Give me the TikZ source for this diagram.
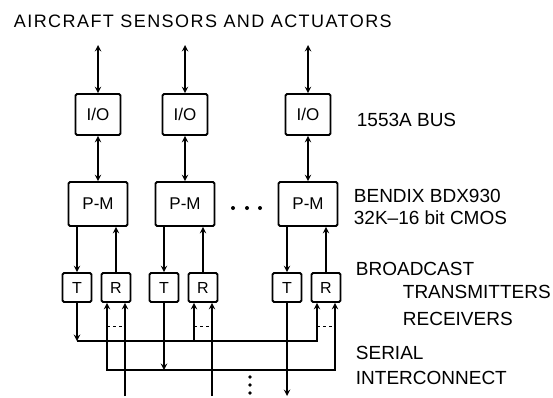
\documentclass[tikz,border=0pt]{standalone}
\usepackage{fontspec}
\setmainfont{Liberation Sans}
\begin{document}
\begin{tikzpicture}[>=stealth,x=1pt,y=-1pt,line width=1.8pt,
  unit/.style={draw,rounded corners=1.5pt,inner sep=0pt,font=\fontsize{17}{17}\selectfont},
  io/.style={unit,minimum width=45pt,minimum height=41pt},
  pm/.style={unit,minimum width=59pt,minimum height=44pt},
  xr/.style={unit,minimum width=29pt,minimum height=29pt,font=\fontsize{16}{16}\selectfont},
  lbl/.style={anchor=west,inner sep=0pt,font=\fontsize{19}{19}\selectfont}]
  \useasboundingbox (0,0) rectangle (553,397);
  % Title
  \node[lbl,font=\fontsize{18}{18}\selectfont\addfontfeature{LetterSpace=8}] (title) at (13,21) {AIRCRAFT SENSORS AND ACTUATORS};
  % Sensor and actuator ends
  \coordinate (s1) at (98,45);
  \coordinate (s2) at (185,45);
  \coordinate (s3) at (308,45);
  % I/O units
  \node[io] (io1) at (98,114.5) {I/O};
  \node[io] (io2) at (185,114.5) {I/O};
  \node[io] (io3) at (308,114.5) {I/O};
  % Processor-memory units
  \node[pm] (pm1) at (98,204) {P-M};
  \node[pm] (pm2) at (185,204) {P-M};
  \node[pm] (pm3) at (308,204) {P-M};
  \foreach \x in {233,247,260} \fill (\x,208) circle (2pt);
  % Transmitters and receivers
  \node[xr] (t1) at (77,287.5) {T};
  \node[xr] (r1) at (116,287.5) {R};
  \node[xr] (t2) at (164,287.5) {T};
  \node[xr] (r2) at (203,287.5) {R};
  \node[xr] (t3) at (287,287.5) {T};
  \node[xr] (r3) at (326,287.5) {R};
  % Right-hand labels
  \node[lbl] (bus) at (356,120) {1553A BUS};
  \node[lbl] (cpu) at (353,196) {BENDIX BDX930};
  \node[lbl] (mem) at (353,218) {32K--16 bit CMOS};
  \node[lbl] (bc) at (355,269) {BROADCAST};
  \node[lbl] (tx) at (402,292) {TRANSMITTERS};
  \node[lbl] (rx) at (402,319) {RECEIVERS};
  \node[lbl] (ser) at (355,353) {SERIAL};
  \node[lbl] (ic) at (355,378) {INTERCONNECT};
  % Vertical links
  \foreach \i in {1,2,3} {
    \draw[<->] (s\i) -- (io\i);
    \draw[<->] (io\i) -- (pm\i);
    \draw[->] (pm\i.south -| t\i) -- (t\i);
    \draw[->] (r\i) -- (r\i |- pm\i.south);
    \coordinate (r\i a) at ([xshift=-9pt]r\i.south);
    \coordinate (r\i b) at ([xshift=9pt]r\i.south);
  }
  % Serial interconnect
  \coordinate (b1) at (0,341);
  \coordinate (b2) at (0,370);
  \coordinate (bot) at (0,396);
  \coordinate (dl) at (0,326);
  \draw[->] (t1) -- (t1 |- b1);
  \draw[->] (t1 |- b1) -- (r3a |- b1) -- (r3a);
  \draw[->] (r2a |- b1) -- (r2a);
  \draw[<->] (r1a) -- (r1a |- b2) -- (r3b |- b2) -- (r3b);
  \draw[->] (t2) -- (t2 |- b2);
  \draw[->] (t3) -- (t3 |- bot);
  \draw[->] (r1b |- bot) -- (r1b);
  \draw[->] (r2b |- bot) -- (r2b);
  \foreach \i in {1,2,3}
    \draw[dashed,line width=1pt] (r\i a |- dl) -- (r\i b |- dl);
  \foreach \y in {377,385,393} \fill (250,\y) circle (1.8pt);
\end{tikzpicture}
\end{document}
